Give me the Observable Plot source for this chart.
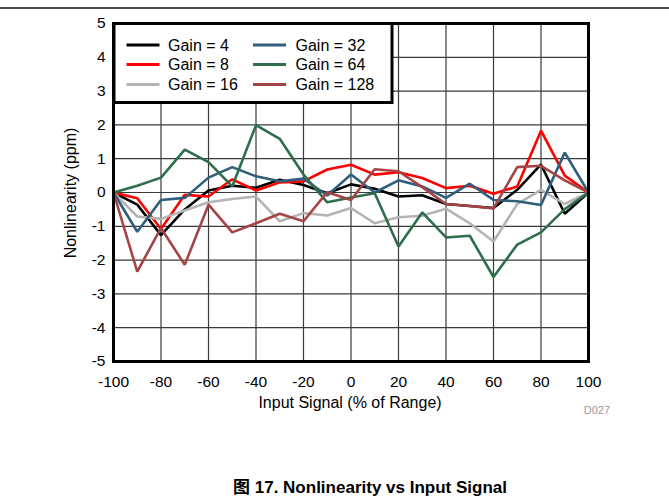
<!DOCTYPE html>
<html>
<head>
<meta charset="utf-8">
<script src="https://cdn.jsdelivr.net/npm/d3@7"></script>
<script src="https://cdn.jsdelivr.net/npm/@observablehq/plot@0.6"></script>
<style>
  html, body { margin: 0; padding: 0; background: #fff; }
  #chart { width: 669px; height: 498px; overflow: hidden; }
</style>
</head>
<body>
<div id="chart"></div>
<script>
const inputSignal = [-100,-90,-80,-70,-60,-50,-40,-30,-20,-10,0,10,20,30,40,50,60,70,80,90,100];
const gain4   = [0,-0.36,-1.26,-0.5,0.06,0.2,0.14,0.38,0.22,-0.02,0.24,0.11,-0.12,-0.08,-0.34,-0.4,-0.46,0.08,0.83,-0.63,0];
const gain8   = [0,-0.17,-1.08,-0.07,-0.12,0.39,0.06,0.3,0.33,0.68,0.82,0.53,0.6,0.43,0.13,0.2,-0.04,0.18,1.83,0.5,0];
const gain16  = [0,-0.71,-0.78,-0.53,-0.29,-0.19,-0.12,-0.85,-0.61,-0.68,-0.46,-0.91,-0.73,-0.69,-0.48,-0.91,-1.45,-0.34,0.08,-0.34,0];
const gain32  = [0,-1.16,-0.22,-0.16,0.44,0.75,0.48,0.33,0.41,-0.09,0.53,0.0,0.36,0.18,-0.16,0.26,-0.22,-0.26,-0.37,1.18,0];
const gain64  = [0,0.2,0.44,1.27,0.9,0.18,1.99,1.59,0.53,-0.29,-0.15,-0.02,-1.6,-0.59,-1.33,-1.28,-2.5,-1.54,-1.18,-0.49,0];
const gain128 = [0,-2.34,-1.05,-2.14,-0.36,-1.18,-0.91,-0.63,-0.85,0.01,-0.22,0.69,0.63,0.16,-0.34,-0.4,-0.47,0.75,0.79,0.36,0];

const seriesNames  = ["Gain = 4","Gain = 8","Gain = 16","Gain = 32","Gain = 64","Gain = 128"];
const seriesValues = [gain4, gain8, gain16, gain32, gain64, gain128];
const seriesColors = ["#000000","#ff0000","#b4b4b4","#2f5f7c","#2e6e4c","#a44444"];

const xTicks = [-100,-80,-60,-40,-20,0,20,40,60,80,100];
const yTicks = [-5,-4,-3,-2,-1,0,1,2,3,4,5];

const xLabel = "Input Signal (% of Range)";
const yLabel = "Nonlinearity (ppm)";
const caption = "图 17. Nonlinearity vs Input Signal";
const figId = "D027";

const data = seriesNames.flatMap((name, i) =>
  inputSignal.map((x, j) => ({series: name, x, y: seriesValues[i][j]})));

const font = "'Liberation Sans', Arial, Helvetica, sans-serif";

const chart = Plot.plot({
  width: 669,
  height: 498,
  marginLeft: 113,
  marginRight: 81,
  marginTop: 23,
  marginBottom: 137,
  style: {fontFamily: font, fontSize: "15.5px", color: "#000", background: "#fff"},
  x: {domain: [-100, 100], label: null},
  y: {domain: [-5, 5], label: null},
  color: {domain: seriesNames, range: seriesColors},
  marks: [
    Plot.gridX(xTicks, {stroke: "#3a3a3a", strokeOpacity: 1, strokeWidth: 1.2}),
    Plot.gridY(yTicks, {stroke: "#3a3a3a", strokeOpacity: 1, strokeWidth: 1.2}),
    Plot.line(data, {x: "x", y: "y", z: "series", stroke: "series", strokeWidth: 2.6, strokeLinejoin: "miter"}),
    Plot.frame({stroke: "#000", strokeWidth: 3}),
    Plot.axisX(xTicks, {tickSize: 0, tickPadding: 14, label: null, tickFormat: d => String(d)}),
    Plot.axisY(yTicks, {tickSize: 0, tickPadding: 8, label: null, tickFormat: d => String(d)})
  ]
});

document.getElementById("chart").appendChild(chart);

const svg = d3.select(chart);

// top rule (remnant of page header)
svg.append("line")
  .attr("x1", 0).attr("x2", 669).attr("y1", 8).attr("y2", 8)
  .attr("stroke", "#111").attr("stroke-width", 1.5);

// legend box
const lg = svg.append("g").attr("text-anchor", "start");
lg.append("rect")
  .attr("x", 114).attr("y", 23.5).attr("width", 278).attr("height", 79)
  .attr("fill", "#fff").attr("stroke", "#000").attr("stroke-width", 3);
const rowY = [45, 64.5, 84.5];
seriesNames.forEach((name, i) => {
  const col = Math.floor(i / 3), row = i % 3;
  const lx = col === 0 ? 126.5 : 253;
  const tx = col === 0 ? 168 : 295.5;
  lg.append("line")
    .attr("x1", lx).attr("x2", lx + 33).attr("y1", rowY[row]).attr("y2", rowY[row])
    .attr("stroke", seriesColors[i]).attr("stroke-width", 3);
  lg.append("text")
    .attr("x", tx).attr("y", rowY[row]).attr("dy", "0.36em")
    .attr("text-anchor", "start")
    .attr("font-family", font).attr("font-size", "16px").attr("fill", "#000")
    .text(name);
});

// axis labels
svg.append("text")
  .attr("x", 350).attr("y", 402).attr("dy", "0.36em")
  .attr("text-anchor", "middle")
  .attr("font-family", font).attr("font-size", "16px").attr("fill", "#000")
  .text(xLabel);
svg.append("text")
  .attr("transform", "translate(70,193) rotate(-90)")
  .attr("dy", "0.36em")
  .attr("text-anchor", "middle")
  .attr("font-family", font).attr("font-size", "16px").attr("fill", "#000")
  .text(yLabel);

// figure id
svg.append("text")
  .attr("x", 610).attr("y", 410).attr("dy", "0.36em")
  .attr("text-anchor", "end")
  .attr("font-family", font).attr("font-size", "11px").attr("fill", "#9a9a9a")
  .text(figId);

// caption
svg.append("text")
  .attr("x", 370).attr("y", 487).attr("dy", "0.36em")
  .attr("text-anchor", "middle")
  .attr("font-family", "'Liberation Sans', Arial, 'Noto Sans CJK SC', sans-serif")
  .attr("font-weight", "bold").attr("font-size", "17px").attr("fill", "#000")
  .text(caption);
</script>
</body>
</html>
